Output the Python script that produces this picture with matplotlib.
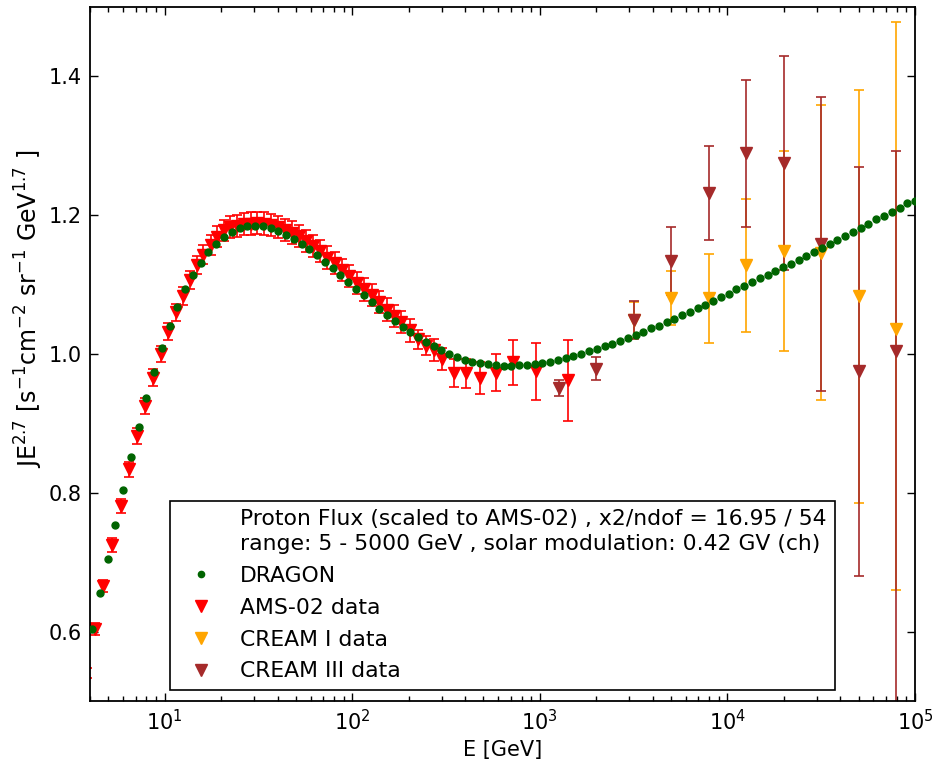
import numpy as np
import matplotlib
matplotlib.use("Agg")
import matplotlib.pyplot as plt
from matplotlib.lines import Line2D

# DRAGON model, proton flux * E^2.7
dragon_e = [4.10, 4.51, 4.96, 5.46, 6.00, 6.60, 7.26, 7.99, 8.79, 9.67,
            10.63, 11.70, 12.87, 14.15, 15.57, 17.13, 18.84, 20.72, 22.79, 25.07,
            27.58, 30.34, 33.37, 36.71, 40.38, 44.42, 48.86, 53.75, 59.12, 65.03,
            71.54, 78.69, 86.56, 95.22, 104.7, 115.2, 126.7, 139.4, 153.3, 168.7,
            185.6, 204.1, 224.5, 247.0, 271.7, 298.9, 328.7, 361.6, 397.8, 437.6,
            481.3, 529.4, 582.4, 640.6, 704.7, 775.2, 852.7, 938.0, 1031.8, 1135,
            1248, 1373, 1511, 1662, 1828, 2011, 2212, 2433, 2676, 2944,
            3238, 3562, 3918, 4310, 4741, 5215, 5737, 6310, 6941, 7636,
            8399, 9239, 10163, 11179, 12297, 13527, 14879, 16367, 18004, 19804,
            21784, 23963, 26359, 28995, 31895, 35084, 38593, 42452, 46697, 51367,
            56504, 62154, 68370, 75207, 82727, 91000, 100100]
dragon_flux = [0.604, 0.655, 0.704, 0.753, 0.804, 0.851, 0.895, 0.936, 0.974, 1.009,
               1.040, 1.068, 1.093, 1.114, 1.131, 1.147, 1.159, 1.169, 1.176, 1.181,
               1.184, 1.185, 1.184, 1.181, 1.177, 1.172, 1.166, 1.159, 1.151, 1.142,
               1.133, 1.124, 1.114, 1.104, 1.094, 1.085, 1.075, 1.065, 1.056, 1.047,
               1.039, 1.031, 1.024, 1.018, 1.011, 1.006, 1.000, 0.996, 0.992, 0.989,
               0.987, 0.985, 0.984, 0.983, 0.983, 0.984, 0.984, 0.986, 0.987, 0.989,
               0.991, 0.994, 0.997, 1.000, 1.004, 1.007, 1.011, 1.015, 1.019, 1.023,
               1.028, 1.032, 1.037, 1.041, 1.046, 1.051, 1.056, 1.061, 1.066, 1.071,
               1.077, 1.082, 1.087, 1.093, 1.098, 1.104, 1.109, 1.114, 1.120, 1.125,
               1.130, 1.136, 1.141, 1.147, 1.153, 1.158, 1.164, 1.170, 1.176, 1.182,
               1.187, 1.194, 1.199, 1.205, 1.211, 1.217, 1.221]

# AMS-02 data
ams_e = [3.85, 4.25, 4.71, 5.26, 5.83, 6.45, 7.15, 7.85, 8.66, 9.52,
         10.46, 11.45, 12.52, 13.64, 14.8, 16.1, 17.6, 19.0, 20.6, 22.4,
         24.3, 26.4, 28.7, 31.1, 33.9, 36.8, 40.1, 43.6, 47.5, 51.8,
         56.5, 61.7, 67.3, 73.6, 80.5, 88.0, 96.4, 105.6, 115.7, 126.9,
         139.3, 152.9, 167.3, 183.0, 202.6, 224.3, 246.6, 272.1, 302.8, 349,
         406, 479, 581, 721, 960, 1416]
ams_flux = [0.540, 0.604, 0.666, 0.725, 0.781, 0.834, 0.882, 0.925, 0.966, 1.000,
            1.032, 1.060, 1.084, 1.107, 1.128, 1.143, 1.157, 1.169, 1.178, 1.183,
            1.184, 1.187, 1.188, 1.189, 1.188, 1.186, 1.183, 1.179, 1.175, 1.170,
            1.163, 1.156, 1.148, 1.139, 1.131, 1.121, 1.112, 1.102, 1.093, 1.085,
            1.075, 1.064, 1.055, 1.046, 1.034, 1.021, 1.012, 1.006, 0.993, 0.973,
            0.972, 0.965, 0.973, 0.988, 0.975, 0.962]
ams_err = [0.007, 0.009, 0.009, 0.010, 0.010, 0.011, 0.011, 0.011, 0.012, 0.012,
           0.012, 0.012, 0.013, 0.013, 0.013, 0.014, 0.014, 0.015, 0.015, 0.016,
           0.016, 0.016, 0.016, 0.016, 0.016, 0.016, 0.016, 0.016, 0.016, 0.016,
           0.016, 0.016, 0.016, 0.016, 0.016, 0.016, 0.016, 0.016, 0.016, 0.016,
           0.016, 0.016, 0.016, 0.016, 0.017, 0.014, 0.014, 0.016, 0.016, 0.020,
           0.021, 0.023, 0.027, 0.032, 0.041, 0.058]

# CREAM I data
cream1_e = [3162, 5012, 7943, 12589, 19953, 31623, 50119, 79433]
cream1_flux = [1.049, 1.081, 1.080, 1.128, 1.149, 1.146, 1.083, 1.036]
cream1_err_lo = [0.026, 0.039, 0.064, 0.096, 0.144, 0.213, 0.297, 0.376]
cream1_err_hi = [0.026, 0.039, 0.064, 0.096, 0.144, 0.213, 0.297, 0.442]

# CREAM III data
cream3_e = [1259, 1995, 3162, 5012, 7943, 12589, 19953, 31623, 50119, 79433]
cream3_flux = [0.951, 0.979, 1.049, 1.134, 1.232, 1.289, 1.275, 1.159, 0.975, 1.005]
cream3_err_lo = [0.011, 0.016, 0.028, 0.049, 0.068, 0.106, 0.154, 0.212, 0.295, 0.600]
cream3_err_hi = [0.011, 0.016, 0.028, 0.049, 0.068, 0.106, 0.154, 0.212, 0.295, 0.288]

legend_title = ("Proton Flux (scaled to AMS-02) , x2/ndof = 16.95 / 54\n"
                "range: 5 - 5000 GeV , solar modulation: 0.42 GV (ch)")

fig = plt.figure(figsize=(9.34, 7.65), dpi=100)
ax = fig.add_axes([90 / 934, 64 / 765, 825 / 934, 694 / 765])

eb = dict(fmt='v', ms=8.5, elinewidth=1.2, capsize=3.5, capthick=1.2, zorder=2)
ams = ax.errorbar(ams_e, ams_flux, yerr=ams_err, color='red', mec='red', **eb)
# first AMS bin sits left of the axis: only its error caps peek in
ams[0].set_markevery(list(range(1, len(ams_e))))
ax.errorbar(cream1_e, cream1_flux, yerr=[cream1_err_lo, cream1_err_hi],
            color='orange', mec='orange', **eb)
ax.errorbar(cream3_e, cream3_flux, yerr=[cream3_err_lo, cream3_err_hi],
            color='brown', mec='brown', **eb)
ax.plot(dragon_e, dragon_flux, 'o', color='darkgreen', mec='darkgreen', ms=5, zorder=4)

ax.set_xscale('log')
ax.set_xlim(4, 1e5)
ax.set_ylim(0.5, 1.5)
ax.set_yticks([0.6, 0.8, 1.0, 1.2, 1.4])
ax.tick_params(which='both', direction='in', top=True, right=True, labelsize=15, pad=6)
ax.tick_params(which='major', length=6, width=1)
ax.tick_params(which='minor', length=3.5, width=1)
for s in ax.spines.values():
    s.set_linewidth(1.3)

ax.set_xlabel('E [GeV]', fontsize=15)
ax.set_ylabel('JE$^{2.7}$ [s$^{-1}$cm$^{-2}$ sr$^{-1}$ GeV$^{1.7}$ ]', fontsize=17)
ax.yaxis.set_label_coords(-0.055, 0.565)

handles = [Line2D([], [], linestyle='none', marker='none'),
           Line2D([], [], linestyle='none', marker='o', color='darkgreen', ms=4.5),
           Line2D([], [], linestyle='none', marker='v', color='red', ms=8),
           Line2D([], [], linestyle='none', marker='v', color='orange', ms=8),
           Line2D([], [], linestyle='none', marker='v', color='brown', ms=8)]
labels = [legend_title, 'DRAGON', 'AMS-02 data', 'CREAM I data', 'CREAM III data']
leg = ax.legend(handles, labels, loc='lower center', fontsize=15.75, numpoints=1,
                fancybox=False, framealpha=1, edgecolor='black', labelspacing=0.54)
leg.get_texts()[0].set_linespacing(1.3)
leg.get_frame().set_linewidth(1.2)

fig.savefig('out.png', dpi=100)
